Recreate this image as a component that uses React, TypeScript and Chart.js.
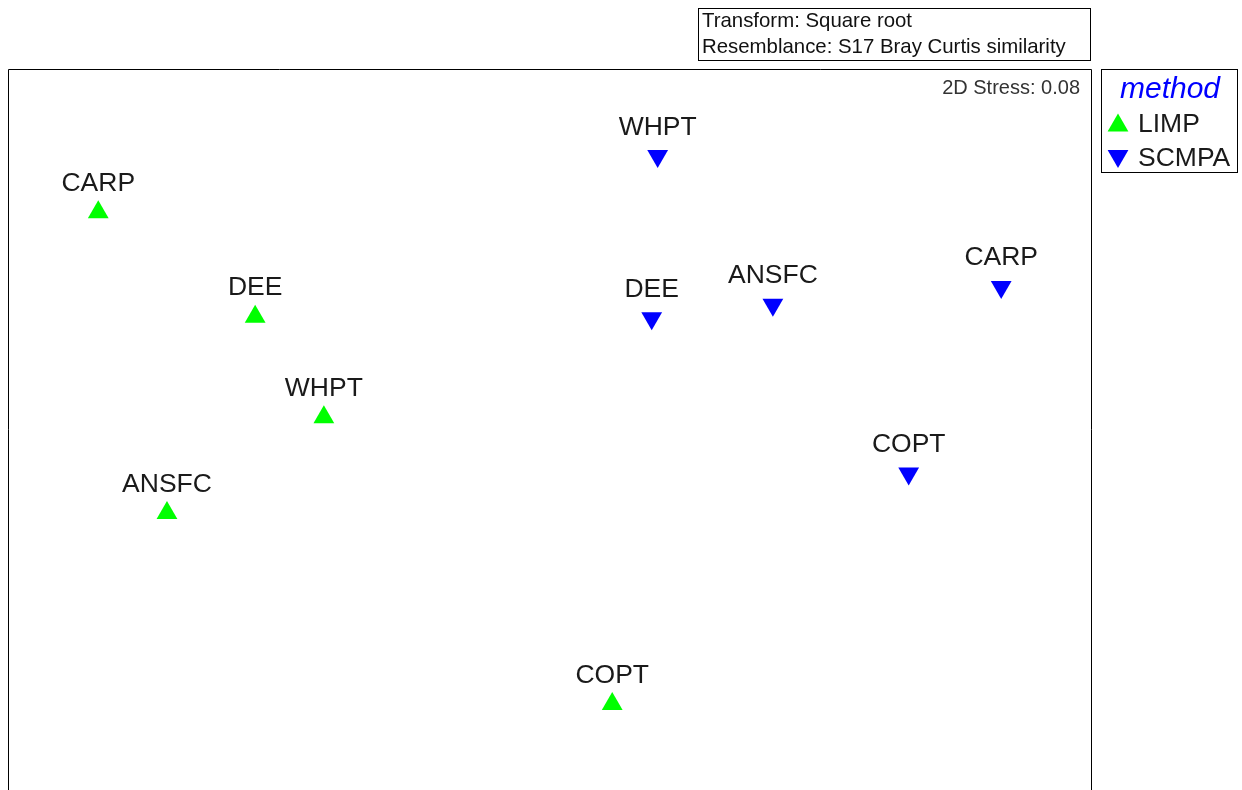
import React, { useEffect, useRef } from "react";
import { Chart, registerables } from "chart.js";

Chart.register(...registerables);

// nMDS site labels (same order for both methods)
const sites = ["ANSFC", "CARP", "COPT", "DEE", "WHPT"];
// MDS coordinates, method LIMP
const limpX = [-0.708, -0.835, 0.115, -0.545, -0.418];
const limpY = [-0.119, 0.437, -0.472, 0.244, 0.058];
// MDS coordinates, method SCMPA
const scmpaX = [0.412, 0.834, 0.663, 0.188, 0.199];
const scmpaY = [0.266, 0.299, -0.046, 0.241, 0.541];

const methods = ["LIMP", "SCMPA"];
const legendTitle = "method";
const stressText = "2D Stress: 0.08";
const infoLines = ["Transform: Square root", "Resemblance: S17 Bray Curtis similarity"];

const GREEN = "#00ff00";
const BLUE = "#0000ff";
const FONT = "'Liberation Sans', Arial, Helvetica, sans-serif";

function tri(ctx: CanvasRenderingContext2D, x: number, y: number, r: number, down: boolean, color: string) {
  ctx.save();
  ctx.fillStyle = color;
  ctx.beginPath();
  let a = down ? Math.PI : 0;
  for (let i = 0; i < 3; i++) {
    const px = x + Math.sin(a) * r;
    const py = y - Math.cos(a) * r;
    if (i === 0) ctx.moveTo(px, py);
    else ctx.lineTo(px, py);
    a += (2 * Math.PI) / 3;
  }
  ctx.closePath();
  ctx.fill();
  ctx.restore();
}

const decorPlugin = {
  id: "decor",
  afterDatasetsDraw(chart: any) {
    const ctx: CanvasRenderingContext2D = chart.ctx;
    const area = chart.chartArea;
    ctx.save();
    // plot frame (top, left, right)
    ctx.strokeStyle = "#000";
    ctx.lineWidth = 1;
    ctx.beginPath();
    ctx.moveTo(area.left - 0.5, chart.height);
    ctx.lineTo(area.left - 0.5, area.top - 0.5);
    ctx.lineTo(area.right + 0.5, area.top - 0.5);
    ctx.lineTo(area.right + 0.5, chart.height);
    ctx.stroke();

    // point labels
    ctx.fillStyle = "#1a1a1a";
    ctx.font = `26.5px ${FONT}`;
    ctx.textAlign = "center";
    ctx.textBaseline = "alphabetic";
    chart.data.datasets.forEach((ds: any, di: number) => {
      const meta = chart.getDatasetMeta(di);
      meta.data.forEach((el: any, i: number) => {
        ctx.fillText(ds.data[i].label, el.x, el.y - 21.5);
      });
    });

    // stress
    ctx.fillStyle = "#333";
    ctx.font = `20px ${FONT}`;
    ctx.textAlign = "right";
    ctx.fillText(stressText, area.right - 11, 93.5);

    // info box
    ctx.strokeStyle = "#000";
    ctx.strokeRect(698.5, 8.5, 392, 52);
    ctx.fillStyle = "#111";
    ctx.font = `20.4px ${FONT}`;
    ctx.textAlign = "left";
    ctx.fillText(infoLines[0], 702, 27);
    ctx.fillText(infoLines[1], 702, 53);

    // legend box
    ctx.strokeRect(1101.5, 69.5, 136, 103);
    ctx.fillStyle = BLUE;
    ctx.font = `italic 30px ${FONT}`;
    ctx.textAlign = "center";
    ctx.fillText(legendTitle, 1170, 98);
    ctx.font = `26.5px ${FONT}`;
    ctx.textAlign = "left";
    chart.data.datasets.forEach((ds: any, di: number) => {
      const cy = 122 + di * 34;
      tri(ctx, 1118, di === 0 ? cy + 3.5 : cy, 12, di === 1, ds.backgroundColor);
      ctx.fillStyle = "#1a1a1a";
      ctx.fillText(ds.label, 1138, cy + 9.5);
    });
    ctx.restore();
  },
};

export default function App() {
  const ref = useRef<HTMLCanvasElement>(null);
  useEffect(() => {
    if (!ref.current) return;
    const mk = (xs: number[], ys: number[]) => xs.map((x, i) => ({ x, y: ys[i], label: sites[i] }));
    const chart = new Chart(ref.current, {
      type: "scatter",
      data: {
        datasets: [
          {
            label: methods[0],
            data: mk(limpX, limpY),
            pointStyle: "triangle",
            pointRadius: 12,
            pointRotation: 0,
            backgroundColor: GREEN,
            borderColor: GREEN,
            borderWidth: 0,
          },
          {
            label: methods[1],
            data: mk(scmpaX, scmpaY),
            pointStyle: "triangle",
            pointRadius: 12,
            pointRotation: 180,
            backgroundColor: BLUE,
            borderColor: BLUE,
            borderWidth: 0,
          },
        ],
      } as any,
      options: {
        responsive: false,
        animation: false,
        devicePixelRatio: 1,
        layout: { autoPadding: false, padding: { left: 9, top: 70, right: 151, bottom: 0 } },
        scales: {
          x: { type: "linear", display: false, min: -1.0, max: 1.0 },
          y: { type: "linear", display: false, min: 0.7 - 720 / 541, max: 0.7 },
        },
        plugins: {
          legend: { display: false },
          tooltip: { enabled: false },
        },
      } as any,
      plugins: [decorPlugin],
    });
    return () => chart.destroy();
  }, []);
  return (
    <canvas
      ref={ref}
      width={1242}
      height={790}
      style={{ position: "absolute", left: 0, top: 0, width: 1242, height: 790, background: "#fff" }}
    />
  );
}
